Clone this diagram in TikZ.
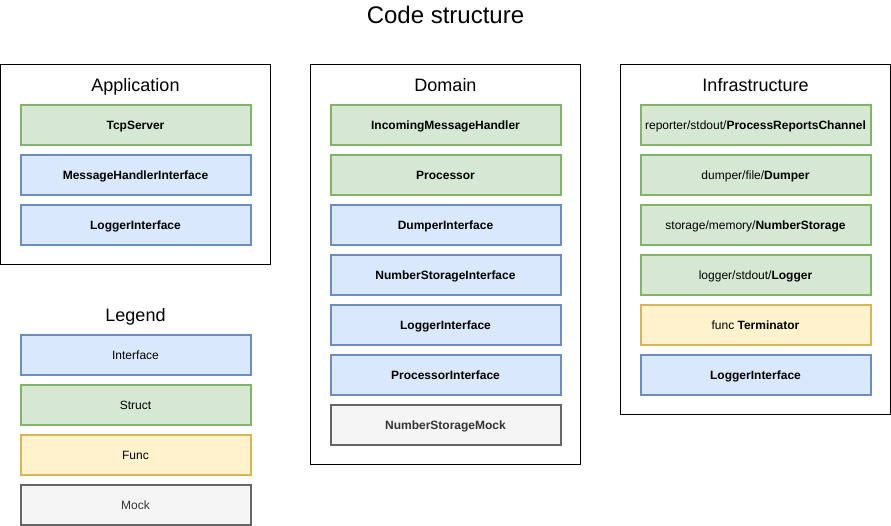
\documentclass[tikz,border=0pt]{standalone}
\usepackage{fontspec}
\setmainfont{Liberation Sans}
\usetikzlibrary{calc}
\definecolor{ifacefill}{HTML}{DAE8FC}
\definecolor{ifaceline}{HTML}{6C8EBF}
\definecolor{structfill}{HTML}{D5E8D4}
\definecolor{structline}{HTML}{82B366}
\definecolor{funcfill}{HTML}{FFF2CC}
\definecolor{funcline}{HTML}{D6B656}
\definecolor{mockfill}{HTML}{F5F5F5}
\definecolor{mockline}{HTML}{666666}
\definecolor{mocktext}{HTML}{333333}
\tikzset{
    cbox/.style={draw, line width=2pt, minimum width=230pt, minimum height=40pt, inner sep=0pt,
        text height=8.6pt, text depth=0pt,
        font=\fontsize{12}{14}\selectfont\bfseries},
    iface/.style={cbox, draw=ifaceline, fill=ifacefill},
    struct/.style={cbox, draw=structline, fill=structfill},
    func/.style={cbox, draw=funcline, fill=funcfill},
    mock/.style={cbox, draw=mockline, fill=mockfill, text=mocktext},
    legendbox/.style={font=\fontsize{12}{14}\selectfont},
    layertitle/.style={font=\fontsize{18}{22}\selectfont, text height=12.9pt, text depth=0pt},
}
\newcommand{\codebox}[5]{\node[#1] (#2) at ( #3 , #4 ) {#5};}
\newcommand{\layerframe}[5]{\draw[line width=1pt] ( #1 , #2 ) rectangle ( #3 , #4 );
    \node[layertitle] at ( $ ( #1 , 0 ) ! 0.5 ! ( #3 , 0 ) + ( 0 , 85 ) $ ) {#5};}

\begin{document}
\begin{tikzpicture}[x=1pt, y=-1pt]
        \useasboundingbox (0,0) rectangle (891,526);
        \node[font=\fontsize{24}{28}\selectfont, text height=17.2pt, text depth=0pt] (title) at (445.5,15) {Code structure};
        % application
        \layerframe{0.5}{64.5}{270.5}{264.5}{Application}
        \codebox{struct}{app1}{135.5}{125}{TcpServer}
        \codebox{iface}{app2}{135.5}{175}{MessageHandlerInterface}
        \codebox{iface}{app3}{135.5}{225}{LoggerInterface}
        % domain
        \layerframe{310.5}{64.5}{580.5}{464.5}{Domain}
        \codebox{struct}{dom1}{445.5}{125}{IncomingMessageHandler}
        \codebox{struct}{dom2}{445.5}{175}{Processor}
        \codebox{iface}{dom3}{445.5}{225}{DumperInterface}
        \codebox{iface}{dom4}{445.5}{275}{NumberStorageInterface}
        \codebox{iface}{dom5}{445.5}{325}{LoggerInterface}
        \codebox{iface}{dom6}{445.5}{375}{ProcessorInterface}
        \codebox{mock}{dom7}{445.5}{425}{NumberStorageMock}
        % infrastructure
        \layerframe{620.5}{64.5}{890.5}{414.5}{Infrastructure}
        \codebox{struct}{inf1}{755.5}{125}{\mdseries reporter/stdout/\bfseries ProcessReportsChannel}
        \codebox{struct}{inf2}{755.5}{175}{\mdseries dumper/file/\bfseries Dumper}
        \codebox{struct}{inf3}{755.5}{225}{\mdseries storage/memory/\bfseries NumberStorage}
        \codebox{struct}{inf4}{755.5}{275}{\mdseries logger/stdout/\bfseries Logger}
        \codebox{func}{inf5}{755.5}{325}{\mdseries func \bfseries Terminator}
        \codebox{iface}{inf6}{755.5}{375}{LoggerInterface}
        % legend
        \node[layertitle] (legend) at (135.5,315) {Legend};
        \codebox{iface,legendbox}{leg1}{135.5}{355}{Interface}
        \codebox{struct,legendbox}{leg2}{135.5}{405}{Struct}
        \codebox{func,legendbox}{leg3}{135.5}{455}{Func}
        \codebox{mock,legendbox}{leg4}{135.5}{505}{Mock}
\end{tikzpicture}
\end{document}
